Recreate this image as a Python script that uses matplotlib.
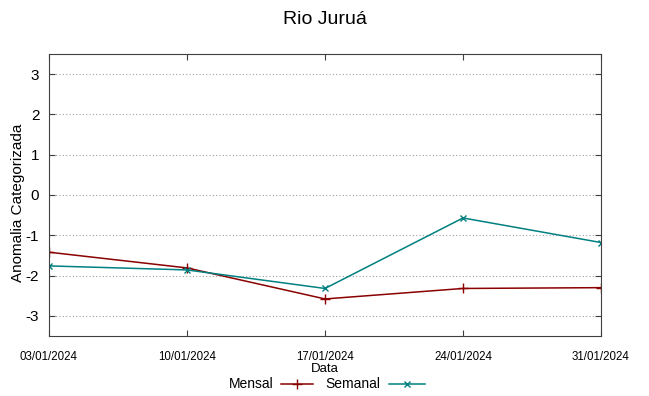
import matplotlib
matplotlib.use("Agg")
import matplotlib.pyplot as plt
import datetime as dt
from matplotlib.lines import Line2D
from matplotlib import font_manager

dates = ["2024-01-03", "2024-01-10", "2024-01-17", "2024-01-24", "2024-01-31"]
mensal = [-1.42, -1.81, -2.58, -2.32, -2.30]
semanal = [-1.76, -1.86, -2.32, -0.57, -1.18]
yticks = [-3, -2, -1, 0, 1, 2, 3]
title = "Rio Juruá"

plt.rcParams['font.family'] = ['Liberation Sans', 'DejaVu Sans']
x = [dt.datetime.strptime(d, "%Y-%m-%d") for d in dates]

names = {f.name for f in font_manager.fontManager.ttflist}
narrow = 'Liberation Sans Narrow' in names

fig = plt.figure(figsize=(6.49, 3.96), dpi=100)
ax = fig.add_axes([49/649, 1-336/396, (601-49)/649, (336-54)/396])

red = "#8b0000"
teal = "#008080"
ax.plot(x, mensal, color=red, lw=1.1, marker="+", ms=7, mew=1)
ax.plot(x, semanal, color=teal, lw=1.1, marker="x", ms=5, mew=1)

ax.set_xlim(x[0], x[-1])
ax.set_ylim(-3.5, 3.5)
ax.set_yticks(yticks)
ax.set_yticklabels([str(v) for v in yticks], fontsize=11)
ax.set_xticks(x)
if narrow:
    ax.set_xticklabels([d.strftime("%d/%m/%Y") for d in x], fontsize=9.3,
                       family=['Liberation Sans Narrow', 'Liberation Sans'])
else:
    ax.set_xticklabels([d.strftime("%d/%m/%Y") for d in x], fontsize=8.3)
ax.tick_params(direction="in", top=True, right=True, length=4, color="#404040")
ax.tick_params(axis="x", pad=10.5)
ax.tick_params(axis="y", pad=7)
for s in ax.spines.values():
    s.set_color("#404040")
ax.grid(axis="y", color="#a0a0a0", ls=(0, (1, 2)), lw=0.8)

fig.text(325/649, 1-20/396, title, ha="center", va="center", fontsize=14)
fig.text(325/649, 1-369.5/396, "Data", ha="center", va="center", fontsize=9.5)
fig.text(18/649, 1-203/396, "Anomalia Categorizada", ha="center", va="center",
         rotation=90, fontsize=11)

# legend
yl = 383.5
fig.text(274/649, 1-yl/396, "Mensal", ha="right", va="center", fontsize=10)
fig.text(380/649, 1-yl/396, "Semanal", ha="right", va="center", fontsize=10)
y = 1-yl/396
fig.add_artist(Line2D([281/649, 313/649], [y, y], color=red, lw=1.1))
fig.add_artist(Line2D([297/649], [y], color=red, marker="+", ms=7, mew=1))
fig.add_artist(Line2D([389/649, 425/649], [y, y], color=teal, lw=1.1))
fig.add_artist(Line2D([407/649], [y], color=teal, marker="x", ms=5, mew=1))

fig.savefig("out.png", dpi=100)
